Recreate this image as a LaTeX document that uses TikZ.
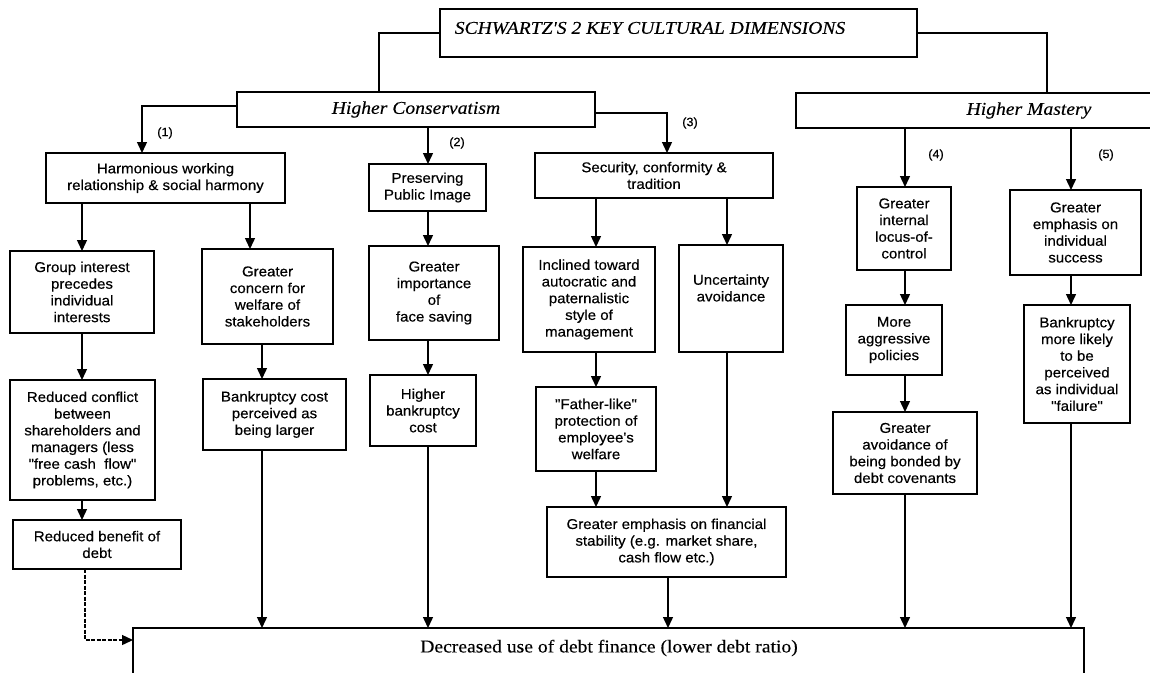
\documentclass[tikz,border=0pt]{standalone}
\usepackage{fontspec}
\setmainfont{Liberation Serif}
\newfontfamily\boxfont[FakeStretch=1.06,FakeBold=0.4]{Liberation Sans}
\newfontfamily\headfont[FakeStretch=1.09,FakeBold=0.25]{Liberation Serif}
\usetikzlibrary{arrows.meta}
\tikzset{
  bx/.style={draw, line width=1.3pt, inner sep=0pt, outer sep=0pt, anchor=north west, align=center,
    font=\boxfont\fontsize{14.2}{16.7}\selectfont},
  bt/.style={inner sep=0pt, align=center, font=\boxfont\fontsize{14.2}{16.7}\selectfont},
  hd/.style={font=\headfont\itshape\fontsize{18}{20}\selectfont},
  bd/.style={inner sep=0pt, font=\headfont\fontsize{18}{20}\selectfont},
  ln/.style={line width=1.4pt},
  arr/.style={line width=1.4pt, -{Triangle[length=11pt,width=10pt]}},
  lbl/.style={inner sep=0pt, font=\boxfont\fontsize{12}{14}\selectfont}
}
\begin{document}
\begin{tikzpicture}[x=1pt,y=-1pt]
\useasboundingbox (0,0) rectangle (1150,672);
\fill[white] (0,0) rectangle (1150,672);
\clip (0,0) rectangle (1150,672);

% top level
\node[bx, minimum width=477pt, minimum height=48pt] (title) at (440,9) {};
\node[hd, inner sep=0pt] (titletxt) at (650,28) {SCHWARTZ'S 2 KEY CULTURAL DIMENSIONS};
\node[bx, hd, minimum width=358pt, minimum height=35pt] (hc) at (237,92) {Higher Conservatism};
\node[bx, hd, minimum width=466pt, minimum height=35pt] (hm) at (796,93) {Higher Mastery};

% row 1
\node[bx, minimum width=239pt, minimum height=50pt] (harm) at (46,153) {Harmonious working\\relationship \& social harmony};
\node[bx, minimum width=117pt, minimum height=47pt] (pres) at (369,164) {Preserving\\Public Image};
\node[bx, minimum width=238pt, minimum height=45pt] (sec) at (535,153) {Security, conformity \&\\tradition};
\node[bx, minimum width=94pt, minimum height=83pt] (gi) at (857,187) {Greater\\internal\\locus-of-\\control};
\node[bx, minimum width=131pt, minimum height=85pt] (ge) at (1010,190) {Greater\\emphasis on\\individual\\success};

% row 2
\node[bx, minimum width=144pt, minimum height=82pt] (grp) at (10,251) {Group interest\\precedes\\individual\\interests};
\node[bx, minimum width=131pt, minimum height=95pt] (conc) at (202,249) {Greater\\concern for\\welfare of\\stakeholders};
\node[bx, minimum width=130pt, minimum height=94pt] (imp) at (369,246) {Greater\\importance\\of\\face saving};
\node[bx, minimum width=132pt, minimum height=105pt] (incl) at (523,247) {Inclined toward\\autocratic and\\paternalistic\\style of\\management};
\node[bx, minimum width=104pt, minimum height=107pt] (unc) at (679,245) {};
\node[bt] (unctxt) at (731,288) {Uncertainty\\avoidance};
\node[bx, minimum width=96pt, minimum height=70pt] (aggr) at (846,305) {More\\aggressive\\policies};
\node[bx, minimum width=106pt, minimum height=118pt] (bl) at (1024,305) {Bankruptcy\\more likely\\to be\\perceived\\as individual\\"failure"};

% row 3
\node[bx, minimum width=145pt, minimum height=120pt] (rc) at (10,380) {Reduced conflict\\between\\shareholders and\\managers (less\\"free cash\ \ flow"\\problems, etc.)};
\node[bx, minimum width=143pt, minimum height=71pt] (bc) at (203,379) {Bankruptcy cost\\perceived as\\being larger};
\node[bx, minimum width=106pt, minimum height=71pt] (hb) at (370,375) {Higher\\bankruptcy\\cost};
\node[bx, minimum width=120pt, minimum height=84pt] (fath) at (536,387) {"Father-like"\\protection of\\employee's\\welfare};
\node[bx, minimum width=144pt, minimum height=82pt] (ga) at (833,412) {Greater\\avoidance of\\being bonded by\\debt covenants};
\node[bx, minimum width=239pt, minimum height=70pt] (fin) at (547,507) {Greater emphasis on financial\\stability (e.g. market share,\\cash flow etc.)};
\node[bx, minimum width=168pt, minimum height=49pt] (rb) at (13,520) {Reduced benefit of\\debt};

% bottom
\node[bx, minimum width=951pt, minimum height=92pt] (bot) at (133,628) {};
\node[bd] (bottxt) at (609,648) {Decreased use of debt finance (lower debt ratio)};

% column coordinates
\coordinate (k1) at (379,0);
\coordinate (k2) at (1047,0);
\coordinate (p1) at (142,106);
\coordinate (p3) at (667,113);
\coordinate (xa) at (82,0);
\coordinate (xb) at (250,0);
\coordinate (xc) at (262,0);
\coordinate (xd) at (428,0);
\coordinate (xe) at (596,0);
\coordinate (xf) at (727,0);
\coordinate (xg) at (668,0);
\coordinate (xh) at (905,0);
\coordinate (xi) at (1071,0);
\coordinate (pr) at (85,640);

% connectors
\draw[ln] (title.west) -| (hc.north -| k1);
\draw[ln] (title.east) -| (hm.north -| k2);
\draw[arr] (hc.west |- p1) -| (harm.north -| p1);
\draw[arr] (hc.south -| xd) -- (pres.north -| xd);
\draw[arr] (hc.east |- p3) -| (sec.north -| p3);
\draw[arr] (hm.south -| xh) -- (gi.north -| xh);
\draw[arr] (hm.south -| xi) -- (ge.north -| xi);
\draw[arr] (harm.south -| xa) -- (grp.north -| xa);
\draw[arr] (harm.south -| xb) -- (conc.north -| xb);
\draw[arr] (pres.south -| xd) -- (imp.north -| xd);
\draw[arr] (sec.south -| xe) -- (incl.north -| xe);
\draw[arr] (sec.south -| xf) -- (unc.north -| xf);
\draw[arr] (gi.south -| xh) -- (aggr.north -| xh);
\draw[arr] (ge.south -| xi) -- (bl.north -| xi);
\draw[arr] (grp.south -| xa) -- (rc.north -| xa);
\draw[arr] (conc.south -| xc) -- (bc.north -| xc);
\draw[arr] (imp.south -| xd) -- (hb.north -| xd);
\draw[arr] (incl.south -| xe) -- (fath.north -| xe);
\draw[arr] (aggr.south -| xh) -- (ga.north -| xh);
\draw[arr] (rc.south -| xa) -- (rb.north -| xa);
\draw[arr] (fath.south -| xe) -- (fin.north -| xe);
\draw[arr] (unc.south -| xf) -- (fin.north -| xf);
\draw[arr] (bc.south -| xc) -- (bot.north -| xc);
\draw[arr] (hb.south -| xd) -- (bot.north -| xd);
\draw[arr] (fin.south -| xg) -- (bot.north -| xg);
\draw[arr] (ga.south -| xh) -- (bot.north -| xh);
\draw[arr] (bl.south -| xi) -- (bot.north -| xi);
\draw[arr, dash pattern=on 4pt off 1.5pt] (rb.south -| pr) |- (bot.west |- pr);

% labels
\node[lbl] (l1) at (165,133) {(1)};
\node[lbl] (l2) at (457,143) {(2)};
\node[lbl] (l3) at (690,123) {(3)};
\node[lbl] (l4) at (936,155) {(4)};
\node[lbl] (l5) at (1106,155) {(5)};
\end{tikzpicture}
\end{document}
